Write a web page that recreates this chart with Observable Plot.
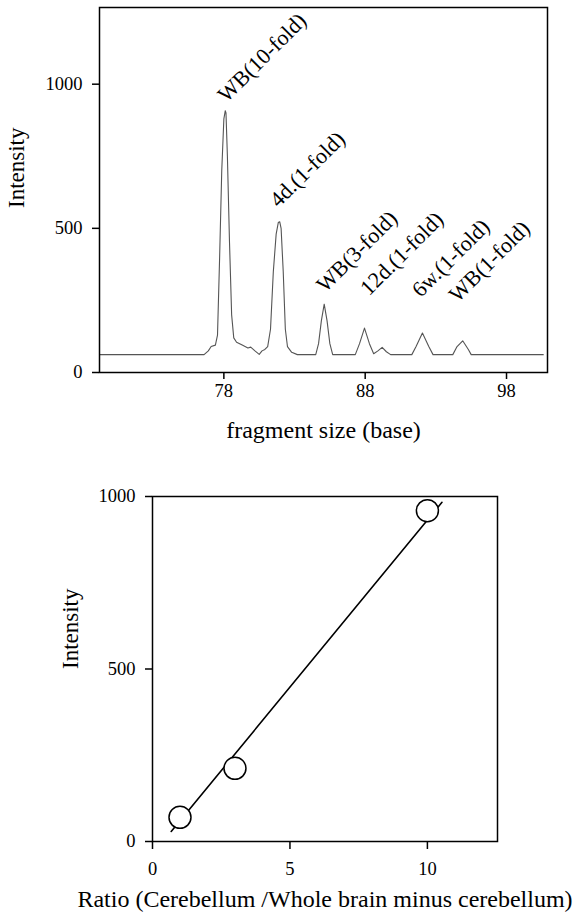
<!DOCTYPE html>
<html>
<head>
<meta charset="utf-8">
<script src="https://cdn.jsdelivr.net/npm/d3@7"></script>
<script src="https://cdn.jsdelivr.net/npm/@observablehq/plot@0.6"></script>
<style>
  html, body { margin: 0; padding: 0; background: #fff; }
  #chart svg { display: block; }
  #chart svg text { font-family: "Liberation Serif", "DejaVu Serif", serif; }
</style>
</head>
<body>
<div id="chart"></div>
<script>
// ---------- Top panel: electropherogram trace ----------
const traceX = [69.2, 76.6, 76.9, 77.1, 77.4, 77.55, 77.7, 77.85, 78.0, 78.1, 78.15, 78.25, 78.4, 78.55, 78.7, 78.9, 79.3, 79.7, 79.9, 80.2, 80.5, 80.7, 80.9, 81.1, 81.3, 81.5, 81.7, 81.85, 81.95, 82.05, 82.2, 82.35, 82.5, 82.8, 83.2, 84.5, 84.7, 84.9, 85.1, 85.3, 85.5, 85.7, 87.3, 87.6, 87.95, 88.3, 88.6, 88.9, 89.2, 89.5, 89.8, 91.3, 91.6, 92.05, 92.5, 92.8, 94.2, 94.5, 94.9, 95.3, 95.5, 100.6];
const traceY = [62, 62, 75, 90, 95, 130, 400, 700, 880, 908, 900, 750, 450, 200, 120, 105, 95, 85, 88, 75, 63, 75, 80, 90, 150, 350, 480, 520, 523, 500, 350, 150, 90, 70, 62, 62, 100, 180, 237, 180, 100, 62, 62, 100, 154, 100, 65, 75, 87, 72, 62, 62, 90, 137, 90, 62, 62, 90, 110, 80, 62, 62];

const peakNames = ["WB(10-fold)", "4d.(1-fold)", "WB(3-fold)", "12d.(1-fold)", "6w.(1-fold)", "WB(1-fold)"];
const peakLabelX = [77.69, 81.37, 84.67, 87.78, 91.43, 94.06];
const peakLabelY = [944, 580, 285, 274, 268, 251];

const topXTicks = [78, 88, 98];
const topYTicks = [0, 500, 1000];

// ---------- Bottom panel: calibration ----------
const ratio = [1, 3, 10];
const intensity = [70, 212, 959];
const fitX = [0.68, 10.53];
const fitY = [29, 983];
const botXTicks = [0, 5, 10];
const botYTicks = [0, 500, 1000];

const trace = traceX.map((x, i) => ({x, y: traceY[i]}));
const labels = peakNames.map((t, i) => ({t, x: peakLabelX[i], y: peakLabelY[i]}));
const pts = ratio.map((x, i) => ({x, y: intensity[i]}));
const fit = fitX.map((x, i) => ({x, y: fitY[i]}));

const font = "Liberation Serif";
const fmt = d => String(d);

const topChart = Plot.plot({
  width: 576, height: 460,
  marginLeft: 99, marginRight: 29, marginTop: 7, marginBottom: 88,
  x: {domain: [69.2, 100.9]},
  y: {domain: [0, 1266]},
  style: {fontFamily: font, fontSize: "18px", background: "white", color: "black"},
  marks: [
    Plot.line(trace, {x: "x", y: "y", stroke: "#555", strokeWidth: 1.1}),
    Plot.frame({stroke: "black", strokeWidth: 1.5}),
    Plot.axisY({ticks: topYTicks, tickFormat: fmt, tickSize: 7, tickPadding: 10, label: null, fontSize: 18.5, fontFamily: font, strokeWidth: 1.5}),
    Plot.axisX({ticks: topXTicks, tickFormat: fmt, tickSize: 7, tickPadding: 4, label: null, fontSize: 18.5, fontFamily: font, strokeWidth: 1.5}),
    Plot.text(labels, {x: "x", y: "y", text: "t", rotate: -45, textAnchor: "start", lineAnchor: "bottom", dx: 7, dy: 3, fontSize: 22, fontFamily: font}),
    Plot.text(["Intensity"], {text: d => d, frameAnchor: "left", dx: -83, dy: 18, rotate: -90, fontSize: 23, fontFamily: font}),
    Plot.text(["fragment size (base)"], {text: d => d, frameAnchor: "bottom", dy: 65, fontSize: 24, fontFamily: font})
  ]
});

const bottomChart = Plot.plot({
  width: 576, height: 456,
  marginLeft: 152, marginRight: 79, marginTop: 36, marginBottom: 75,
  x: {domain: [0, 12.55]},
  y: {domain: [0, 1000]},
  style: {fontFamily: font, fontSize: "18px", background: "white", color: "black"},
  marks: [
    Plot.frame({stroke: "black", strokeWidth: 1.5}),
    Plot.axisY({ticks: botYTicks, tickFormat: fmt, tickSize: 7, tickPadding: 10, label: null, fontSize: 18.5, fontFamily: font, strokeWidth: 1.5}),
    Plot.axisX({ticks: botXTicks, tickFormat: fmt, tickSize: 8, tickPadding: 12, label: null, fontSize: 18.5, fontFamily: font, strokeWidth: 1.5}),
    Plot.line(fit, {x: "x", y: "y", stroke: "black", strokeWidth: 1.6}),
    Plot.dot(pts, {x: "x", y: "y", r: 11, fill: "white", stroke: "black", strokeWidth: 1.5}),
    Plot.text(["Intensity"], {text: d => d, frameAnchor: "left", dx: -82, rotate: -90, fontSize: 23, fontFamily: font}),
    Plot.text(["Ratio (Cerebellum /Whole brain minus cerebellum)"], {text: d => d, frameAnchor: "bottom", dy: 65, fontSize: 24, fontFamily: font})
  ]
});

const root = document.getElementById("chart");
root.appendChild(topChart);
root.appendChild(bottomChart);
</script>
</body>
</html>
